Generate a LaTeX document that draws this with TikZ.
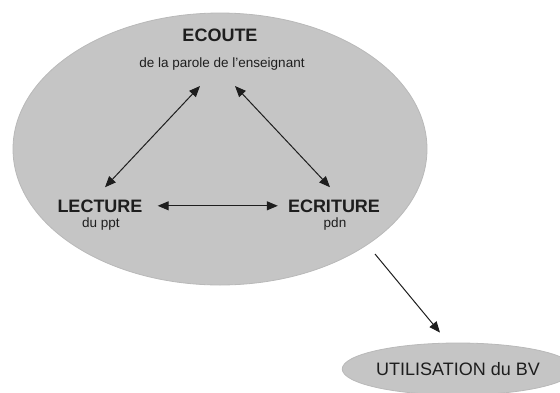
\documentclass[tikz,border=0pt]{standalone}
\usepackage{fontspec}
\setmainfont{Liberation Sans}
\usetikzlibrary{arrows.meta,shapes.geometric}
\definecolor{zonefill}{RGB}{197,197,197}
\definecolor{zoneedge}{RGB}{185,185,185}
\definecolor{ink}{RGB}{30,30,30}
\begin{document}
\begin{tikzpicture}[x=1pt,y=-1pt,
  zone/.style={ellipse,fill=zonefill,draw=zoneedge,line width=0.8pt,inner sep=0pt},
  title/.style={anchor=base,inner sep=0pt,text=ink,font=\fontsize{18}{20}\selectfont\bfseries},
  subtitle/.style={anchor=base,inner sep=0pt,text=ink,font=\fontsize{13.5}{15}\selectfont},
  link/.style={ink,line width=1pt,{Triangle[length=11pt,width=9pt]}-{Triangle[length=11pt,width=9pt]}},
  onelink/.style={ink,line width=1pt,-{Triangle[length=11pt,width=9pt]}}]
\useasboundingbox (0,0) rectangle (560,392);
\node[zone,minimum width=414pt,minimum height=272pt] (zone) at (220,149) {};
\node[zone,minimum width=222pt,minimum height=52pt,text=ink,font=\fontsize{18}{20}\selectfont] (util) at (458,369) {UTILISATION du BV};
\node[title] (ecoute) at (220,41) {ECOUTE};
\node[subtitle] (sub) at (222,67) {de la parole de l’enseignant};
\node[title] (lect) at (100,212) {LECTURE};
\node[subtitle] (lectsub) at (101,227) {du ppt};
\node[title] (ecri) at (334,212) {ECRITURE};
\node[subtitle] (ecrisub) at (335,227) {pdn};
\draw[link] ([shift={(-22,16)}]sub.south) -- ([shift={(5,-12)}]lect.north);
\draw[link] ([shift={(13,16)}]sub.south) -- ([shift={(-4,-12)}]ecri.north);
\draw[link] ([shift={(15,0)}]lect.east) -- ([shift={(-10,0)}]ecri.west);
\draw[onelink] ([shift={(155,105)}]zone.center) -- ([shift={(-18,-10)}]util.north);
\end{tikzpicture}
\end{document}
